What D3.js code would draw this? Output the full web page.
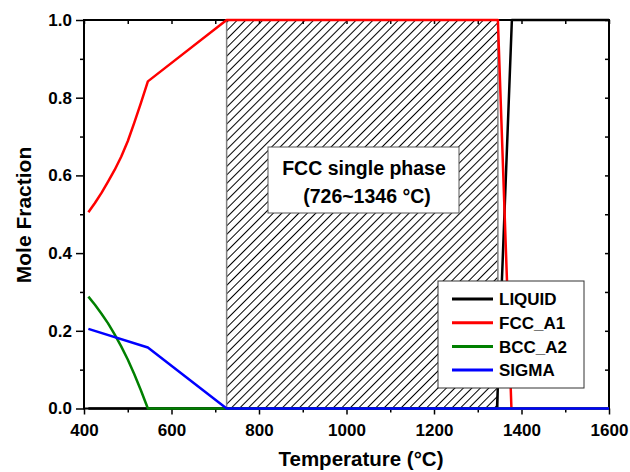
<!DOCTYPE html>
<html>
<head>
<meta charset="utf-8">
<script src="https://cdn.jsdelivr.net/npm/d3@7"></script>
<style>
  body { margin: 0; background: #fff; }
  text { font-family: "Liberation Sans", Arial, sans-serif; font-weight: bold; }
</style>
</head>
<body>
<div id="chart"></div>
<script>
// phase fraction data
var liquidT = [410, 1344, 1378, 1600];
var liquidY = [0, 0, 1, 1];

var fccT = [410, 425, 440, 455, 470, 485, 500, 515, 530, 546, 726, 1346, 1377, 1600];
var fccY = [0.505, 0.529, 0.555, 0.584, 0.614, 0.648, 0.688, 0.736, 0.786, 0.842, 1.0, 1.0, 0, 0];

var bccT = [410, 425, 440, 455, 470, 485, 500, 515, 530, 546, 1600];
var bccY = [0.288, 0.267, 0.244, 0.219, 0.191, 0.16, 0.126, 0.088, 0.047, 0, 0];

var sigmaT = [410, 546, 726, 1600];
var sigmaY = [0.205, 0.157, 0, 0];

var seriesNames = ["LIQUID", "FCC_A1", "BCC_A2", "SIGMA"];
var seriesColors = ["#000000", "#ff0000", "#008000", "#0000ff"];

var singlePhase = [726, 1346];
var xMajor = [400, 600, 800, 1000, 1200, 1400, 1600];
var xMinor = [500, 700, 900, 1100, 1300, 1500];
var yMajor = [0, 0.2, 0.4, 0.6, 0.8, 1.0];
var yMinor = [0.1, 0.3, 0.5, 0.7, 0.9];

var svgWidth = 630;
var svgHeight = 472;
var margin = { top: 20, right: 21, bottom: 63.5, left: 84 };
var width = svgWidth - margin.left - margin.right;
var height = svgHeight - margin.top - margin.bottom;

var svg = d3.select("#chart")
  .append("svg")
  .attr("width", svgWidth)
  .attr("height", svgHeight);

var defs = svg.append("defs");
var pattern = defs.append("pattern")
  .attr("id", "hatch")
  .attr("patternUnits", "userSpaceOnUse")
  .attr("width", 6)
  .attr("height", 6)
  .attr("patternTransform", "rotate(45)");
pattern.append("line")
  .attr("x1", 0).attr("y1", 0)
  .attr("x2", 0).attr("y2", 6)
  .attr("stroke", "#000")
  .attr("stroke-width", 1.1)
  .attr("shape-rendering", "crispEdges");

var chartGroup = svg.append("g")
  .attr("transform", `translate(${margin.left}, ${margin.top})`);

var xScale = d3.scaleLinear().domain([400, 1600]).range([0, width]);
var yScale = d3.scaleLinear().domain([0, 1]).range([height, 0]);

// hatched single phase region
chartGroup.append("rect")
  .attr("x", xScale(singlePhase[0]))
  .attr("y", yScale(1))
  .attr("width", xScale(singlePhase[1]) - xScale(singlePhase[0]))
  .attr("height", yScale(0) - yScale(1))
  .attr("fill", "url(#hatch)")
  .attr("stroke", "#808080")
  .attr("stroke-width", 1.5);

// axes
function styleAxis(g) {
  g.select(".domain").remove();
  g.selectAll("line").attr("stroke", "#000").attr("stroke-width", 1.5);
  g.selectAll("text").style("font-size", "17px").attr("fill", "#000");
}

chartGroup.append("g")
  .attr("transform", `translate(0, ${height})`)
  .call(d3.axisBottom(xScale).tickValues(xMajor).tickSize(6).tickPadding(9).tickFormat(d3.format("d")))
  .call(styleAxis);
chartGroup.append("g")
  .attr("transform", `translate(0, ${height})`)
  .call(d3.axisBottom(xScale).tickValues(xMinor).tickSize(4).tickFormat(""))
  .call(styleAxis);
chartGroup.append("g")
  .call(d3.axisTop(xScale).tickValues(xMajor.concat(xMinor)).tickSize(-4).tickFormat(""))
  .call(styleAxis);

chartGroup.append("g")
  .call(d3.axisLeft(yScale).tickValues(yMajor).tickSize(8).tickPadding(4).tickFormat(d3.format(".1f")))
  .call(styleAxis);
chartGroup.append("g")
  .call(d3.axisLeft(yScale).tickValues(yMinor).tickSize(4).tickFormat(""))
  .call(styleAxis);
chartGroup.append("g")
  .attr("transform", `translate(${width}, 0)`)
  .call(d3.axisRight(yScale).tickValues(yMajor.concat(yMinor)).tickSize(-4).tickFormat(""))
  .call(styleAxis);

// frame
chartGroup.append("rect")
  .attr("width", width)
  .attr("height", height)
  .attr("fill", "none")
  .attr("stroke", "#000")
  .attr("stroke-width", 2);

// curves
var allT = [liquidT, fccT, bccT, sigmaT];
var allY = [liquidY, fccY, bccY, sigmaY];

var line = d3.line()
  .x(d => xScale(d[0]))
  .y(d => yScale(d[1]));

seriesNames.forEach(function (name, i) {
  var pts = allT[i].map((t, j) => [t, allY[i][j]]);
  chartGroup.append("path")
    .datum(pts)
    .attr("d", line)
    .attr("fill", "none")
    .attr("stroke", seriesColors[i])
    .attr("stroke-width", 2.5)
    .attr("stroke-linejoin", "round");
});

// annotation box
svg.append("rect")
  .attr("x", 268).attr("y", 147)
  .attr("width", 191).attr("height", 66)
  .attr("fill", "#fff")
  .attr("stroke", "#555")
  .attr("stroke-width", 1);
svg.append("text")
  .attr("x", 364).attr("y", 175)
  .attr("text-anchor", "middle")
  .style("font-size", "19.5px")
  .text("FCC single phase");
svg.append("text")
  .attr("x", 367).attr("y", 203)
  .attr("text-anchor", "middle")
  .style("font-size", "19.5px")
  .text("(726~1346 °C)");

// legend
var legend = svg.append("g");
legend.append("rect")
  .attr("x", 438).attr("y", 281)
  .attr("width", 146).attr("height", 107)
  .attr("fill", "#fff")
  .attr("stroke", "#333")
  .attr("stroke-width", 1);
seriesNames.forEach(function (name, i) {
  var ly = 299 + i * 23.7;
  legend.append("line")
    .attr("x1", 452).attr("x2", 493)
    .attr("y1", ly).attr("y2", ly)
    .attr("stroke", seriesColors[i])
    .attr("stroke-width", 3);
  legend.append("text")
    .attr("x", 499).attr("y", ly)
    .attr("dy", "0.36em")
    .style("font-size", "17px")
    .text(name);
});

// axis titles
svg.append("text")
  .attr("x", 361).attr("y", 466)
  .attr("text-anchor", "middle")
  .style("font-size", "20.5px")
  .text("Temperature (°C)");
svg.append("text")
  .attr("transform", "translate(31, 215) rotate(-90)")
  .attr("text-anchor", "middle")
  .style("font-size", "21px")
  .text("Mole Fraction");
</script>
</body>
</html>
